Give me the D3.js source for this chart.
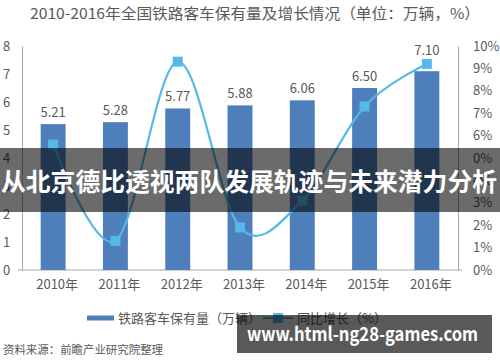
<!DOCTYPE html>
<html><head><meta charset="utf-8">
<script src="https://cdn.jsdelivr.net/npm/d3@7"></script>
<style>body{margin:0;background:#fff}svg{display:block}text{font-family:"Noto Sans CJK SC","Noto Sans",sans-serif}</style>
</head><body><svg id="c" width="500" height="362"></svg>
<script>
const years = ["2010年","2011年","2012年","2013年","2014年","2015年","2016年"];
const stock = [5.21, 5.28, 5.77, 5.88, 6.06, 6.50, 7.10];
const growth = [5.6, 1.3, 9.3, 1.9, 3.1, 7.3, 9.2];
const leftTicks = [0,1,2,3,4,5,6,7,8];
const rightTicks = [0,1,2,3,4,5,6,7,8,9,10];
const rightTickLabels = ["0%","1%","2%","3%","4%","0%","6%","7%","8%","9%","10%"];
const title = "2010-2016年全国铁路客车保有量及增长情况（单位：万辆，%）";
const legendLabels = ["铁路客车保有量（万辆）","同比增长（%）"];
const source = "资料来源：前瞻产业研究院整理";
const banner = "从北京德比透视两队发展轨迹与未来潜力分析";
const watermark = "www.html-ng28-games.com";

const svg = d3.select("#c");
const L = 22, R = 458, T = 46, B = 270;
const gray = "#595959", axisCol = "#a6a6a6", barCol = "#4f7fbb", lineCol = "#56b8e9";

const x = d3.scaleBand().domain(years).range([L, R]).paddingInner(0.6).paddingOuter(0.3);
const yL = d3.scaleLinear().domain([0, 8]).range([B, T]);
const yR = d3.scaleLinear().domain([0, 10]).range([B, T]);

svg.append("text").attr("x", 30).attr("y", 19).attr("font-size", 15).attr("fill", gray)
  .attr("textLength", 450).attr("lengthAdjust", "spacingAndGlyphs").text(title);

// axes
const ga = svg.append("g").attr("transform", `translate(${L},0)`)
  .call(d3.axisLeft(yL).tickValues(leftTicks).tickSize(0).tickPadding(12).tickFormat(d3.format("d")));
const gr = svg.append("g").attr("transform", `translate(${R},0)`)
  .call(d3.axisRight(yR).tickValues(rightTicks).tickSize(0).tickPadding(15).tickFormat((d,i)=>rightTickLabels[i]));
[ga, gr].forEach(g => {
  g.select(".domain").attr("stroke", axisCol);
  g.selectAll("text").attr("font-size", 13).attr("fill", gray).attr("font-family", '"Noto Sans","Liberation Sans",sans-serif');
});
ga.selectAll("text").attr("text-anchor", "start").attr("x", -19);
const gx = svg.append("g").attr("transform", `translate(0,${B})`)
  .call(d3.axisBottom(x).tickSize(0).tickPadding(10));
gx.select(".domain").attr("d", `M${L-4},0H${R+4}`).attr("stroke", axisCol);
gx.selectAll("text").attr("font-size", 13).attr("fill", gray).attr("dx", 4);

// bars
svg.append("g").selectAll("rect").data(stock).join("rect")
  .attr("x", (d,i) => x(years[i])).attr("width", x.bandwidth())
  .attr("y", d => yL(d)).attr("height", d => yL(0) - yL(d)).attr("fill", barCol);

// line points
const pts = growth.map((g,i) => [x(years[i]) + x.bandwidth()/2, yR(g)]);

// value labels (lifted above the marker when they would collide)
svg.append("g").selectAll("text").data(stock).join("text")
  .attr("x", (d,i) => x(years[i]) + x.bandwidth()/2)
  .attr("y", (d,i) => {
    let yy = yL(d) - 7;
    const my = pts[i][1];
    if (yy > my - 12 && yy - 12 < my + 6) yy = my - 9;
    return yy;
  })
  .attr("text-anchor", "middle").attr("font-size", 13).attr("fill", gray)
  .attr("font-family", '"Noto Sans","Liberation Sans",sans-serif')
  .text(d => d.toFixed(2));

svg.append("path").attr("d", d3.line().curve(d3.curveCardinal.tension(0))(pts))
  .attr("fill", "none").attr("stroke", lineCol).attr("stroke-width", 2.2);
svg.append("g").selectAll("rect").data(pts).join("rect")
  .attr("x", d => d[0]-5).attr("y", d => d[1]-5).attr("width", 10).attr("height", 10).attr("fill", lineCol);

// legend
svg.append("rect").attr("x", 87).attr("y", 315.5).attr("width", 27).attr("height", 5).attr("fill", barCol);
svg.append("text").attr("x", 118).attr("y", 323).attr("font-size", 13).attr("fill", gray).text(legendLabels[0]);
svg.append("line").attr("x1", 263).attr("x2", 293).attr("y1", 318).attr("y2", 318).attr("stroke", lineCol).attr("stroke-width", 2);
svg.append("rect").attr("x", 273).attr("y", 313).attr("width", 10).attr("height", 10).attr("fill", lineCol);
svg.append("text").attr("x", 297).attr("y", 323).attr("font-size", 13).attr("fill", gray).text(legendLabels[1]);

svg.append("text").attr("x", 3).attr("y", 354).attr("font-size", 11.5).attr("fill", gray)
  .attr("textLength", 160).attr("lengthAdjust", "spacingAndGlyphs").text(source);

// overlays
svg.append("rect").attr("x", 0).attr("y", 148).attr("width", 500).attr("height", 64).attr("fill", "#000").attr("opacity", 0.58);
svg.append("text").attr("x", 1).attr("y", 191).attr("font-size", 25).attr("font-weight", "bold").attr("fill", "#fff")
  .attr("textLength", 496).attr("lengthAdjust", "spacingAndGlyphs").text(banner);
svg.append("rect").attr("x", 237).attr("y", 315).attr("width", 255).attr("height", 38).attr("fill", "#000").attr("opacity", 0.65);
svg.append("text").attr("x", 247).attr("y", 341).attr("font-size", 19).attr("font-weight", "bold").attr("fill", "#fff")
  .attr("font-family", '"DejaVu Sans","Open Sans",sans-serif')
  .attr("textLength", 231).attr("lengthAdjust", "spacingAndGlyphs").text(watermark);
</script></body></html>
